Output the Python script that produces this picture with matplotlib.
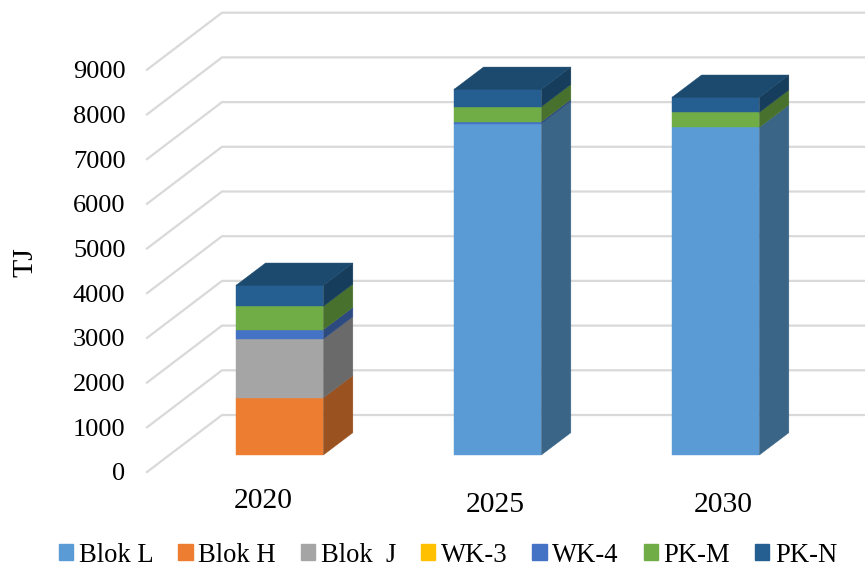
# stacked bars with a fake 3d look, values in TJ

import matplotlib
matplotlib.use("Agg")
import matplotlib.pyplot as plt
from matplotlib.patches import Patch

plt.rcParams["font.family"] = ["Liberation Serif", "DejaVu Serif"]

years = ["2020", "2025", "2030"]
tick_values = [0, 1000, 2000, 3000, 4000, 5000, 6000, 7000, 8000, 9000]

series_names = ["Blok L", "Blok H", "Blok  J", "WK-3", "WK-4", "PK-M", "PK-N"]
blok_l = [0, 7410, 7330]
blok_h = [1280, 0, 0]
blok_j = [1315, 0, 0]
wk_3 = [0, 0, 0]
wk_4 = [208, 45, 0]
pk_m = [523, 336, 336]
pk_n = [470, 389, 336]
series = [blok_l, blok_h, blok_j, wk_3, wk_4, pk_m, pk_n]

front_colors = ["#5B9BD5", "#ED7D31", "#A5A5A5", "#FFC000", "#4472C4", "#70AD47", "#255E91"]
side_colors = ["#3A6586", "#9A5220", "#6A6A6A", "#A67C00", "#2C4A80", "#49712E", "#163D5C"]
top_color = "#1C4A6E"

# pixel layout of the picture
W, H = 865, 566
left_px, right_px = 147, 865
zero_px, top_px = 472, 13
px_per_cat = 218.0
px_per_tj = 44.7 / 1000
first_center_px = 279.7

x_of_px = lambda p: (p - first_center_px) / px_per_cat

fig = plt.figure(figsize=(W / 100, H / 100), dpi=100)
ax = fig.add_axes([left_px / W, 1 - zero_px / H, (right_px - left_px) / W, (zero_px - top_px) / H])
ax.set_xlim(x_of_px(left_px), x_of_px(right_px))
ax.set_ylim(0, (zero_px - top_px) / px_per_tj)

# depth of the back wall and of the bars
wall_dx, wall_dy = 75 / px_per_cat, 57 / px_per_tj
bar_dx, bar_dy = 29.5 / px_per_cat, 22.3 / px_per_tj
base = 17 / px_per_tj
bar_w = 87.3 / px_per_cat

x0, x1 = ax.get_xlim()
for v in tick_values:
    ax.plot([x0, x0 + wall_dx, x1], [v, v + wall_dy, v + wall_dy],
            color="#D9D9D9", lw=1.6, clip_on=False, zorder=1, solid_joinstyle="miter")

for i in range(len(years)):
    left = i - bar_w / 2
    right = i + bar_w / 2
    bottom = base
    for vals, fc, sc in zip(series, front_colors, side_colors):
        h = vals[i]
        if h == 0:
            continue
        top = bottom + h
        ax.fill([left, right, right, left], [bottom, bottom, top, top], color=fc, lw=0.3, zorder=3)
        ax.fill([right, right + bar_dx, right + bar_dx, right],
                [bottom, bottom + bar_dy, top + bar_dy, top], color=sc, lw=0.3, zorder=3)
        bottom = top
    ax.fill([left, right, right + bar_dx, left + bar_dx],
            [bottom, bottom, bottom + bar_dy, bottom + bar_dy], color=top_color, lw=0.3, zorder=3)

for s in ax.spines.values():
    s.set_visible(False)
ax.set_xticks([])
ax.set_yticks(tick_values)
ax.tick_params(axis="y", length=0, pad=15.5, labelsize=19, colors="black")

# category labels do not sit exactly under the bars
label_x = [x_of_px(263), x_of_px(495), x_of_px(723)]
label_drop = [21, 23.5, 23.5]
for name, lx, drop in zip(years, label_x, label_drop):
    ax.annotate(name, (lx, 0), xycoords=ax.get_xaxis_transform(), xytext=(0, -drop),
                textcoords="offset points", ha="center", va="center", fontsize=21.3)

fig.text(25 / W, 1 - 262 / H, "TJ", rotation=90, ha="center", va="center", fontsize=21.5)

handles = [Patch(color=c, label=n) for c, n in zip(front_colors, series_names)]
fig.legend(handles=handles, ncol=7, loc="center", bbox_to_anchor=(448 / W, 1 - 555 / H),
           frameon=False, fontsize=19.2, handlelength=0.54, handleheight=0.54,
           handletextpad=0.2, columnspacing=0.94, borderpad=0, borderaxespad=0)

fig.savefig("out.png", dpi=100)
